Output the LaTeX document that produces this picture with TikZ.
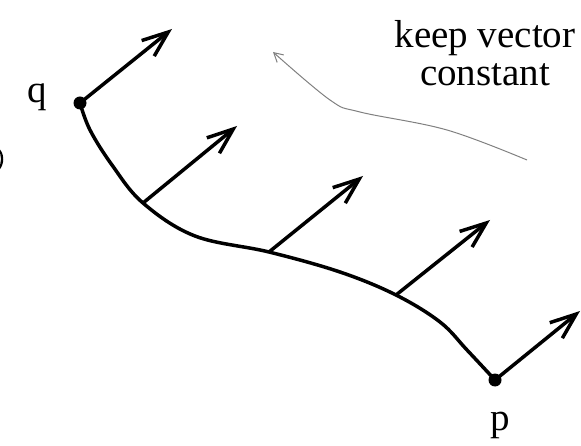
\documentclass[tikz,border=0pt]{standalone}
\usepackage{fontspec}
\setmainfont{Liberation Serif}
\usetikzlibrary{arrows.meta}

\begin{document}
\begin{tikzpicture}[x=1pt,y=-1pt,
    vec/.style={line width=3.5pt,-{Straight Barb[length=26pt,width=20pt,line width=3.5pt]}},
    transport/.style={gray,line width=1pt,-{Straight Barb[length=9pt,width=10pt,line width=1pt]}},
    lbl/.style={inner sep=0pt,font=\fontsize{39}{38}\selectfont},
    dot/.style={circle,fill=black,inner sep=0pt,minimum size=13pt}]
\useasboundingbox (0,0) rectangle (581,446);
% curve from q to p
\coordinate (q) at (80,103);
\coordinate (a) at (143,203);
\coordinate (b) at (269,252);
\coordinate (c) at (396,295);
\coordinate (p) at (495,380);
\draw[line width=3.5pt] plot[smooth,tension=0.6] coordinates
  {(80,103) (90,130) (112,165) (143,203) (195,236) (269,252) (340,272) (396,295) (440,322) (467,350) (495,380)};
\node[dot] (qdot) at (q) {};
\node[dot] (pdot) at (p) {};
% parallel vectors
\coordinate (qt) at ([shift={(92,-74)}]q);
\coordinate (at) at ([shift={(94,-77)}]a);
\coordinate (bt) at ([shift={(94,-76)}]b);
\coordinate (ct) at ([shift={(94,-75)}]c);
\coordinate (pt) at ([shift={(85,-69)}]p);
\draw[vec] (q) -- (qt);
\draw[vec] (a) -- (at);
\draw[vec] (b) -- (bt);
\draw[vec] (c) -- (ct);
\draw[vec] (p) -- (pt);
% labels
\node[lbl] (lq) at (37,97) {q};
\node[lbl] (lp) at (500,425) {p};
\node[lbl,align=center] (keep) at (485,53) {keep vector\\constant};
\draw[transport] plot[smooth,tension=0.6] coordinates
  {(527,160) (447,130) (360,112) (330,100) (273,52)};
% cut-off bracket at the left edge
\fill (-2,148) .. controls (5,152) and (5,166) .. (-2,171) -- (-2,168) .. controls (2,164) and (2,154) .. (-2,150) -- cycle;
\end{tikzpicture}
\end{document}
